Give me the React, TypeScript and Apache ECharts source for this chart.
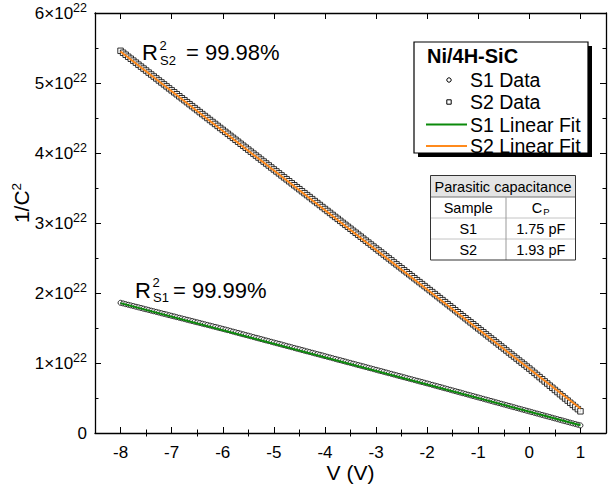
import React, { useEffect, useRef } from 'react';
import * as echarts from 'echarts';

const FONT = "'Liberation Sans', Arial, Helvetica, sans-serif";
const Y_SCALE = 1e22;

// Bias voltage (V)
const V = [
  -8, -7.95, -7.9, -7.85, -7.8, -7.75, -7.7, -7.65, -7.6, -7.55, -7.5, -7.45, -7.4, -7.35, -7.3, -7.25, -7.2, -7.15, -7.1, -7.05,
  -7, -6.95, -6.9, -6.85, -6.8, -6.75, -6.7, -6.65, -6.6, -6.55, -6.5, -6.45, -6.4, -6.35, -6.3, -6.25, -6.2, -6.15, -6.1, -6.05,
  -6, -5.95, -5.9, -5.85, -5.8, -5.75, -5.7, -5.65, -5.6, -5.55, -5.5, -5.45, -5.4, -5.35, -5.3, -5.25, -5.2, -5.15, -5.1, -5.05,
  -5, -4.95, -4.9, -4.85, -4.8, -4.75, -4.7, -4.65, -4.6, -4.55, -4.5, -4.45, -4.4, -4.35, -4.3, -4.25, -4.2, -4.15, -4.1, -4.05,
  -4, -3.95, -3.9, -3.85, -3.8, -3.75, -3.7, -3.65, -3.6, -3.55, -3.5, -3.45, -3.4, -3.35, -3.3, -3.25, -3.2, -3.15, -3.1, -3.05,
  -3, -2.95, -2.9, -2.85, -2.8, -2.75, -2.7, -2.65, -2.6, -2.55, -2.5, -2.45, -2.4, -2.35, -2.3, -2.25, -2.2, -2.15, -2.1, -2.05,
  -2, -1.95, -1.9, -1.85, -1.8, -1.75, -1.7, -1.65, -1.6, -1.55, -1.5, -1.45, -1.4, -1.35, -1.3, -1.25, -1.2, -1.15, -1.1, -1.05,
  -1, -0.95, -0.9, -0.85, -0.8, -0.75, -0.7, -0.65, -0.6, -0.55, -0.5, -0.45, -0.4, -0.35, -0.3, -0.25, -0.2, -0.15, -0.1, -0.05,
  0, 0.05, 0.1, 0.15, 0.2, 0.25, 0.3, 0.35, 0.4, 0.45, 0.5, 0.55, 0.6, 0.65, 0.7, 0.75, 0.8, 0.85, 0.9, 0.95,
  1,
];

// 1/C^2 for S1 (units of 1e22)
const S1 = [
  1.860, 1.851, 1.841, 1.832, 1.823, 1.814, 1.804, 1.795, 1.786, 1.776, 1.767, 1.758, 1.748, 1.739, 1.730, 1.721, 1.711, 1.702, 1.693, 1.683,
  1.674, 1.665, 1.655, 1.646, 1.637, 1.628, 1.618, 1.609, 1.600, 1.590, 1.581, 1.572, 1.562, 1.553, 1.544, 1.535, 1.525, 1.516, 1.507, 1.497,
  1.488, 1.478, 1.469, 1.459, 1.449, 1.439, 1.430, 1.420, 1.410, 1.400, 1.391, 1.381, 1.371, 1.361, 1.352, 1.342, 1.332, 1.322, 1.313, 1.303,
  1.293, 1.283, 1.274, 1.264, 1.254, 1.244, 1.235, 1.225, 1.215, 1.205, 1.196, 1.186, 1.176, 1.166, 1.157, 1.147, 1.137, 1.127, 1.118, 1.108,
  1.098, 1.088, 1.079, 1.069, 1.059, 1.049, 1.040, 1.030, 1.020, 1.010, 1.001, 0.991, 0.981, 0.971, 0.962, 0.952, 0.942, 0.932, 0.923, 0.913,
  0.903, 0.893, 0.884, 0.874, 0.864, 0.854, 0.845, 0.835, 0.825, 0.815, 0.806, 0.796, 0.786, 0.776, 0.767, 0.757, 0.747, 0.737, 0.728, 0.718,
  0.708, 0.698, 0.688, 0.678, 0.668, 0.658, 0.648, 0.638, 0.628, 0.618, 0.608, 0.598, 0.588, 0.578, 0.568, 0.558, 0.548, 0.538, 0.528, 0.518,
  0.508, 0.498, 0.488, 0.478, 0.468, 0.458, 0.448, 0.438, 0.428, 0.418, 0.408, 0.398, 0.388, 0.378, 0.368, 0.358, 0.348, 0.338, 0.328, 0.318,
  0.308, 0.298, 0.288, 0.278, 0.268, 0.258, 0.248, 0.238, 0.228, 0.218, 0.208, 0.198, 0.188, 0.178, 0.168, 0.158, 0.148, 0.138, 0.128, 0.118,
  0.108,
];

// 1/C^2 for S2 (units of 1e22)
const S2 = [
  5.460, 5.432, 5.404, 5.375, 5.347, 5.319, 5.291, 5.262, 5.234, 5.206, 5.178, 5.149, 5.121, 5.093, 5.065, 5.036, 5.008, 4.980, 4.952, 4.923,
  4.895, 4.867, 4.839, 4.810, 4.782, 4.754, 4.726, 4.697, 4.669, 4.641, 4.613, 4.584, 4.556, 4.528, 4.500, 4.471, 4.443, 4.415, 4.387, 4.358,
  4.330, 4.302, 4.274, 4.245, 4.217, 4.189, 4.161, 4.132, 4.104, 4.076, 4.048, 4.019, 3.991, 3.963, 3.935, 3.906, 3.878, 3.850, 3.822, 3.793,
  3.765, 3.737, 3.709, 3.680, 3.652, 3.624, 3.596, 3.567, 3.539, 3.511, 3.483, 3.454, 3.426, 3.398, 3.370, 3.341, 3.313, 3.285, 3.257, 3.228,
  3.200, 3.172, 3.144, 3.115, 3.087, 3.059, 3.031, 3.002, 2.974, 2.946, 2.918, 2.889, 2.861, 2.833, 2.805, 2.776, 2.748, 2.720, 2.692, 2.663,
  2.635, 2.607, 2.579, 2.550, 2.522, 2.494, 2.466, 2.437, 2.409, 2.381, 2.353, 2.324, 2.296, 2.268, 2.240, 2.211, 2.183, 2.155, 2.127, 2.098,
  2.070, 2.041, 2.013, 1.984, 1.955, 1.926, 1.898, 1.869, 1.840, 1.811, 1.783, 1.754, 1.725, 1.696, 1.668, 1.639, 1.610, 1.581, 1.553, 1.524,
  1.495, 1.466, 1.438, 1.409, 1.380, 1.351, 1.323, 1.294, 1.265, 1.236, 1.208, 1.179, 1.150, 1.121, 1.093, 1.064, 1.035, 1.006, 0.978, 0.949,
  0.920, 0.890, 0.859, 0.829, 0.798, 0.768, 0.737, 0.707, 0.676, 0.646, 0.615, 0.585, 0.554, 0.524, 0.493, 0.463, 0.432, 0.402, 0.371, 0.341,
  0.310,
];

// Linear fit endpoints (units of 1e22)
const FIT_V = [-8, 1];
const S1_FIT = [1.855, 0.112];
const S2_FIT = [5.45, 0.35];

// Axis ticks
const X_TICKS = [-8, -7, -6, -5, -4, -3, -2, -1, 0, 1];
const X_MINOR = [-7.5, -6.5, -5.5, -4.5, -3.5, -2.5, -1.5, -0.5, 0.5];

// Texts
const LEGEND_TITLE = 'Ni/4H-SiC';
const LEGEND_ITEMS = ['S1 Data', 'S2 Data', 'S1 Linear Fit', 'S2 Linear Fit'];
const TABLE_TITLE = 'Parasitic capacitance';
const TABLE_SAMPLES = ['S1', 'S2'];
const TABLE_CP = ['1.75 pF', '1.93 pF'];
const R2_S1 = '= 99.99%';
const R2_S2 = '= 99.98%';

const GREEN = '#0b8a0b';
const ORANGE = '#ff8a1c';

function txt(text: string, x: number, y: number, size: number, align = 'left', extra: any = {}) {
  return {
    type: 'text',
    z: 100,
    x,
    y,
    style: {
      text,
      fill: '#000',
      fontSize: size,
      fontFamily: FONT,
      align,
      textAlign: align,
      verticalAlign: 'middle',
      textVerticalAlign: 'middle',
      ...extra,
    },
  };
}

function buildOption() {
  const s1 = V.map((v, i) => [v, S1[i] * Y_SCALE]);
  const s2 = V.map((v, i) => [v, S2[i] * Y_SCALE]);
  const f1 = FIT_V.map((v, i) => [v, S1_FIT[i] * Y_SCALE]);
  const f2 = FIT_V.map((v, i) => [v, S2_FIT[i] * Y_SCALE]);

  const axisLine = { show: true, onZero: false, lineStyle: { color: '#000', width: 1.3 } };
  const tickStyle = { color: '#000', width: 1 };

  const xBase = {
    type: 'value',
    min: -8.5,
    max: 1.5,
    splitLine: { show: false },
    axisLabel: { show: false },
  };

  const yBase = {
    type: 'value',
    min: 0,
    max: 6 * Y_SCALE,
    interval: Y_SCALE,
    splitLine: { show: false },
  };

  const legendX = 414;
  const legendY = 42;
  const legendW = 174;
  const legendH = 111;

  const tX = 430.5;
  const tY = 175.5;
  const tW = 145;
  const rowH = [21.5, 21, 21, 21];
  const colX = 506;

  const graphic: any[] = [
    // legend box with shadow
    { type: 'rect', z: 99, shape: { x: legendX + 4, y: legendY + 4, width: legendW, height: legendH }, style: { fill: '#000' } },
    { type: 'rect', z: 99, shape: { x: legendX, y: legendY, width: legendW, height: legendH }, style: { fill: '#fff', stroke: '#000', lineWidth: 1.2 } },
    txt(LEGEND_TITLE, 427, 56, 20, 'left', { fontWeight: 'bold' }),
    { type: 'circle', z: 100, shape: { cx: 449, cy: 80, r: 2.2 }, style: { fill: '#fff', stroke: '#000', lineWidth: 1 } },
    txt(LEGEND_ITEMS[0], 470, 80, 19.5),
    { type: 'rect', z: 100, shape: { x: 446.8, y: 99.8, width: 4.4, height: 4.4 }, style: { fill: '#fff', stroke: '#000', lineWidth: 1 } },
    txt(LEGEND_ITEMS[1], 470, 102, 19.5),
    { type: 'line', z: 100, shape: { x1: 426, y1: 124.5, x2: 467, y2: 124.5 }, style: { stroke: GREEN, lineWidth: 2 } },
    txt(LEGEND_ITEMS[2], 470, 124.5, 19.5),
    { type: 'line', z: 100, shape: { x1: 426, y1: 146, x2: 467, y2: 146 }, style: { stroke: ORANGE, lineWidth: 2 } },
    txt(LEGEND_ITEMS[3], 470, 146, 19.5),

    // table
    { type: 'rect', z: 99, shape: { x: tX, y: tY, width: tW, height: rowH[0] + rowH[1] + rowH[2] + rowH[3] }, style: { fill: '#fff' } },
    { type: 'rect', z: 99, shape: { x: tX, y: tY, width: tW, height: rowH[0] }, style: { fill: '#e4e4e4' } },
    { type: 'line', z: 100, shape: { x1: tX, y1: tY + rowH[0], x2: tX + tW, y2: tY + rowH[0] }, style: { stroke: '#777', lineWidth: 1 } },
    { type: 'line', z: 100, shape: { x1: tX, y1: tY + rowH[0] + rowH[1], x2: tX + tW, y2: tY + rowH[0] + rowH[1] }, style: { stroke: '#c4c4c4', lineWidth: 1 } },
    { type: 'line', z: 100, shape: { x1: tX, y1: tY + rowH[0] + rowH[1] + rowH[2], x2: tX + tW, y2: tY + rowH[0] + rowH[1] + rowH[2] }, style: { stroke: '#c4c4c4', lineWidth: 1 } },
    { type: 'line', z: 100, shape: { x1: colX, y1: tY + rowH[0], x2: colX, y2: tY + 84.5 }, style: { stroke: '#999', lineWidth: 1 } },
    { type: 'rect', z: 101, shape: { x: tX, y: tY, width: tW, height: 84.5 }, style: { fill: 'none', stroke: '#333', lineWidth: 1 } },
    txt(TABLE_TITLE, (tX + tX + tW) / 2, tY + 11, 14.5, 'center'),
    txt('Sample', (tX + colX) / 2, tY + 32.5, 14.5, 'center'),
    {
      type: 'text', z: 100, x: (colX + tX + tW) / 2, y: tY + 32.5,
      style: {
        text: '{c|C}{p|P}', align: 'center', textAlign: 'center', verticalAlign: 'middle', textVerticalAlign: 'middle',
        rich: {
          c: { fontSize: 14.5, fontFamily: FONT, fill: '#000', color: '#000' },
          p: { fontSize: 9.5, fontFamily: FONT, fill: '#000', color: '#000', padding: [7, 0, 0, 1] },
        },
      },
    },
    txt(TABLE_SAMPLES[0], (tX + colX) / 2, tY + 53.5, 14.5, 'center'),
    txt(TABLE_CP[0], (colX + tX + tW) / 2, tY + 53.5, 14.5, 'center'),
    txt(TABLE_SAMPLES[1], (tX + colX) / 2, tY + 74.5, 14.5, 'center'),
    txt(TABLE_CP[1], (colX + tX + tW) / 2, tY + 74.5, 14.5, 'center'),

    // R^2 annotations
    txt('R', 142, 52.5, 22),
    txt('2', 159.5, 45, 13),
    txt('S2', 160, 60, 13),
    txt(R2_S2, 186, 52.5, 22),
    txt('R', 135, 290, 22),
    txt('2', 152.5, 282.5, 13),
    txt('S1', 153, 297.5, 13),
    txt(R2_S1, 173, 290, 22),

    // axis titles
    txt('V (V)', 350.5, 472, 21, 'center'),
    {
      type: 'text', z: 100, x: 21, y: 203, rotation: Math.PI / 2,
      style: {
        text: '{a|1/C}{b|2}', align: 'center', textAlign: 'center', verticalAlign: 'middle', textVerticalAlign: 'middle',
        rich: {
          a: { fontSize: 21, fontFamily: FONT, fill: '#000', color: '#000' },
          b: { fontSize: 13.5, fontFamily: FONT, fill: '#000', color: '#000', padding: [0, 0, 10, 0] },
        },
      },
    },
  ];

  return {
    animation: false,
    backgroundColor: '#fff',
    grid: { left: 95, right: 3, top: 13, bottom: 60, containLabel: false, outerBoundsMode: 'none' },
    xAxis: [
      {
        ...xBase,
        position: 'bottom',
        axisLine,
        axisTick: { show: true, inside: true, length: 6, lineStyle: tickStyle, customValues: X_TICKS },
        axisLabel: { show: true, customValues: X_TICKS, fontSize: 17, fontFamily: FONT, color: '#000', margin: 11 },
      },
      {
        ...xBase,
        position: 'bottom',
        axisLine: { show: false },
        axisTick: { show: true, inside: true, length: 3.5, lineStyle: tickStyle, customValues: X_MINOR },
      },
      {
        ...xBase,
        position: 'top',
        axisLine,
        axisTick: { show: true, inside: true, length: 6, lineStyle: tickStyle, customValues: X_TICKS },
      },
      {
        ...xBase,
        position: 'top',
        axisLine: { show: false },
        axisTick: { show: true, inside: true, length: 3.5, lineStyle: tickStyle, customValues: X_MINOR },
      },
    ],
    yAxis: [
      {
        ...yBase,
        position: 'left',
        axisLine,
        axisTick: { show: true, inside: true, length: 6, lineStyle: tickStyle },
        minorTick: { show: true, splitNumber: 2, length: 3.5, lineStyle: tickStyle },
        axisLabel: {
          show: true,
          margin: 8,
          color: '#000',
          formatter: (val: number) => {
            const n = Math.round(val / Y_SCALE);
            return n === 0 ? '{a|0}' : `{a|${n}×10}{b|22}`;
          },
          rich: {
            a: { fontSize: 17, fontFamily: FONT, color: '#000' },
            b: { fontSize: 12.5, fontFamily: FONT, color: '#000', padding: [0, 0, 10, 0] },
          },
        },
      },
      {
        ...yBase,
        position: 'right',
        axisLine,
        axisTick: { show: true, inside: true, length: 6, lineStyle: tickStyle },
        minorTick: { show: true, splitNumber: 2, length: 3.5, lineStyle: tickStyle },
        axisLabel: { show: false },
      },
    ],
    series: [
      {
        name: 'S1 Data',
        type: 'scatter',
        xAxisIndex: 0,
        yAxisIndex: 0,
        data: s1,
        symbol: 'circle',
        symbolSize: 5,
        itemStyle: { color: '#fff', borderColor: '#000', borderWidth: 1 },
        z: 2,
      },
      {
        name: 'S2 Data',
        type: 'scatter',
        xAxisIndex: 0,
        yAxisIndex: 0,
        data: s2,
        symbol: 'rect',
        symbolSize: 5.5,
        itemStyle: { color: '#fff', borderColor: '#000', borderWidth: 1 },
        z: 2,
      },
      {
        name: 'S1 Linear Fit',
        type: 'line',
        xAxisIndex: 0,
        yAxisIndex: 0,
        data: f1,
        showSymbol: false,
        symbol: 'none',
        lineStyle: { color: GREEN, width: 2 },
        z: 3,
      },
      {
        name: 'S2 Linear Fit',
        type: 'line',
        xAxisIndex: 0,
        yAxisIndex: 0,
        data: f2,
        showSymbol: false,
        symbol: 'none',
        lineStyle: { color: ORANGE, width: 2 },
        z: 3,
      },
    ],
    graphic,
  };
}

export default function App() {
  const ref = useRef<HTMLDivElement>(null);
  useEffect(() => {
    if (!ref.current) return;
    const chart = echarts.init(ref.current, null, { renderer: 'svg' });
    chart.setOption(buildOption() as any);
    return () => chart.dispose();
  }, []);
  return (
    <div
      ref={ref}
      style={{ position: 'fixed', left: 0, top: 0, width: 609, height: 493, background: '#fff' }}
    />
  );
}
